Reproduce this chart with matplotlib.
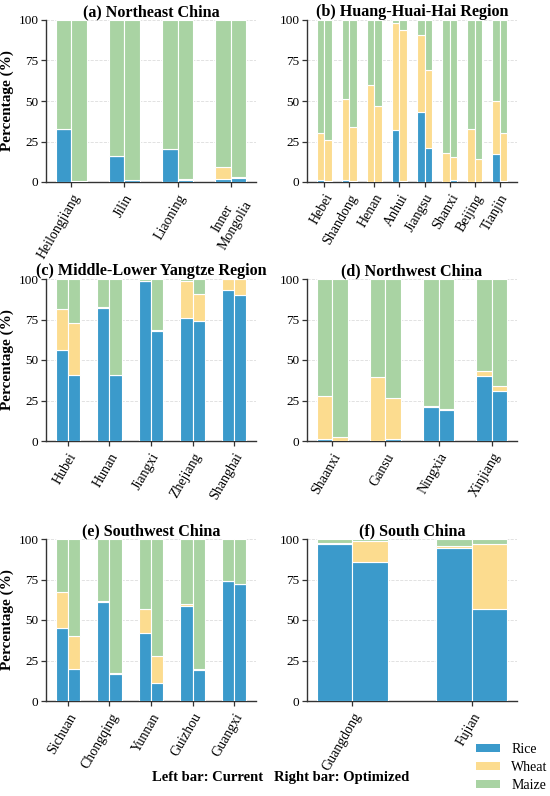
import matplotlib
matplotlib.use("Agg")
import matplotlib.pyplot as plt
import numpy as np
from matplotlib.patches import Patch

plt.rcParams['font.family'] = ['Liberation Serif', 'DejaVu Serif']

# ---------------- data ----------------
titles = ["(a) Northeast China", "(b) Huang-Huai-Hai Region",
          "(c) Middle-Lower Yangtze Region", "(d) Northwest China",
          "(e) Southwest China", "(f) South China"]

prov_a = ["Heilongjiang", "Jilin", "Liaoning", "Inner\nMongolia"]
rice_cur_a = [33, 16, 20.5, 2]
wheat_cur_a = [0, 0, 0, 7]
rice_opt_a = [0.5, 1, 1.5, 2.5]
wheat_opt_a = [0, 0, 0.5, 0.5]

prov_b = ["Hebei", "Shandong", "Henan", "Anhui", "Jiangsu", "Shanxi", "Beijing", "Tianjin"]
rice_cur_b = [1, 1, 0.3, 32, 43, 0.3, 0, 17]
wheat_cur_b = [29, 50.5, 59.7, 66, 48, 17.7, 33, 33]
rice_opt_b = [0.5, 0.5, 0.3, 0.5, 21, 1.5, 0, 0.5]
wheat_opt_b = [25.5, 33.5, 46.7, 93.5, 48, 14, 14.5, 30]

prov_c = ["Hubei", "Hunan", "Jiangxi", "Zhejiang", "Shanghai"]
rice_cur_c = [56, 82, 98.5, 76, 93]
wheat_cur_c = [25.5, 1, 0, 22.5, 7]
rice_opt_c = [41, 41, 68, 74, 90]
wheat_opt_c = [32, 0, 0.5, 17, 10]

prov_d = ["Shaanxi", "Gansu", "Ningxia", "Xinjiang"]
rice_cur_d = [1, 0, 21, 40]
wheat_cur_d = [26.5, 39.5, 0.5, 3.5]
rice_opt_d = [0.3, 1, 19, 31]
wheat_opt_d = [2.2, 25.5, 1, 3]

prov_e = ["Sichuan", "Chongqing", "Yunnan", "Guizhou", "Guangxi"]
rice_cur_e = [45, 61, 42, 58.5, 74]
wheat_cur_e = [22.5, 0.5, 15, 1.5, 0]
rice_opt_e = [20, 16.5, 11, 19, 72]
wheat_opt_e = [20, 0.5, 17, 1, 0]

prov_f = ["Guangdong", "Fujian"]
rice_cur_f = [97, 94.5]
wheat_cur_f = [0.5, 1]
rice_opt_f = [86, 56.5]
wheat_opt_f = [12.5, 40.5]

crops = ["Rice", "Wheat", "Maize"]
colors = ["#3b9acb", "#fcdc8f", "#a9d3a3"]

panels = [
    (prov_a, rice_cur_a, wheat_cur_a, rice_opt_a, wheat_opt_a),
    (prov_b, rice_cur_b, wheat_cur_b, rice_opt_b, wheat_opt_b),
    (prov_c, rice_cur_c, wheat_cur_c, rice_opt_c, wheat_opt_c),
    (prov_d, rice_cur_d, wheat_cur_d, rice_opt_d, wheat_opt_d),
    (prov_e, rice_cur_e, wheat_cur_e, rice_opt_e, wheat_opt_e),
    (prov_f, rice_cur_f, wheat_cur_f, rice_opt_f, wheat_opt_f),
]

# ---------------- figure ----------------
W, H = 550, 796
fig = plt.figure(figsize=(W / 100, H / 100), dpi=100)

lefts = [46, 307]
tops = [20, 279, 539]
ax_w, ax_h = 210, 162

width = 0.3
for i, (prov, rc, wc, ro, wo) in enumerate(panels):
    col, row = i % 2, i // 2
    ax = fig.add_axes([lefts[col] / W, 1 - (tops[row] + ax_h) / H, ax_w / W, ax_h / H])
    x = np.arange(len(prov))
    rc, wc, ro, wo = map(np.array, (rc, wc, ro, wo))
    mc = 100 - rc - wc
    mo = 100 - ro - wo
    for xs, r, w_, m in ((x - width / 2, rc, wc, mc), (x + width / 2, ro, wo, mo)):
        ax.bar(xs, r, width, color=colors[0], edgecolor="white", linewidth=0.8, zorder=3)
        ax.bar(xs, w_, width, bottom=r, color=colors[1], edgecolor="white", linewidth=0.8, zorder=3)
        ax.bar(xs, m, width, bottom=r + w_, color=colors[2], edgecolor="white", linewidth=0.8, zorder=3)
    ax.set_ylim(0, 100)
    ax.set_yticks([0, 25, 50, 75, 100])
    ax.set_xticks(x)
    ax.set_xticklabels(prov, rotation=60, ha="right", rotation_mode="anchor",
                       fontsize=10, multialignment="center")
    ax.tick_params(axis="y", labelsize=9.5, pad=2)
    ax.tick_params(direction="out", length=3.5, width=0.9, color="#333333")
    for s in ("top", "right"):
        ax.spines[s].set_visible(False)
    for s in ("left", "bottom"):
        ax.spines[s].set_color("#333333")
        ax.spines[s].set_linewidth(1.0)
    ax.grid(axis="y", linestyle="--", color="#dddddd", linewidth=0.6, zorder=0)
    ax.set_axisbelow(True)
    ax.set_title(titles[i], fontsize=11.6, fontweight="bold", pad=1)
    if col == 0:
        ax.set_ylabel("Percentage (%)", fontsize=11, fontweight="bold", labelpad=3)

fig.text(281 / W, 1 - 778 / H, "Left bar: Current   Right bar: Optimized",
         ha="center", va="center", fontsize=10.5, fontweight="bold")

handles = [Patch(facecolor=c, edgecolor="none") for c in colors]
fig.legend(handles, crops, loc="upper left", bbox_to_anchor=(476 / W, 1 - 743 / H),
           frameon=False, fontsize=10, handlelength=1.75, handleheight=0.55,
           labelspacing=0.35, handletextpad=0.8, borderaxespad=0, borderpad=0)

fig.savefig("out.png", dpi=100)
